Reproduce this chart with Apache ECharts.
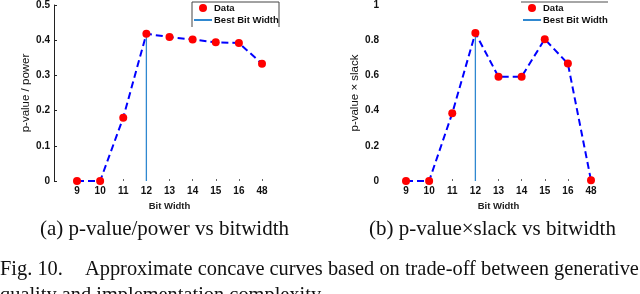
<!DOCTYPE html>
<html>
<head>
<meta charset="utf-8">
<script src="https://cdn.jsdelivr.net/npm/echarts@6/dist/echarts.min.js"></script>
<style>
html,body{margin:0;padding:0;background:#fff;}
#c{width:640px;height:294px;}
</style>
</head>
<body>
<div id="c"></div>
<script>
var bitWidths = ['9', '10', '11', '12', '13', '14', '15', '16', '48'];
var pvPower = [0, 0, 0.18, 0.418, 0.409, 0.402, 0.394, 0.392, 0.333];
var pvSlack = [0, 0, 0.385, 0.841, 0.592, 0.593, 0.806, 0.667, 0.004];
var bestBitWidth = '12';
var yNames = ['p-value / power', 'p-value \u00d7 slack'];
var captions = ['(a) p-value/power vs bitwidth', '(b) p-value\u00d7slack vs bitwidth'];
var figLabel = 'Fig. 10.';
var figText = ['Approximate concave curves based on trade-off between generative',
               'quality and implementation complexity.'];

var chart = echarts.init(document.getElementById('c'), null, {renderer: 'canvas'});
var sans = 'Liberation Sans, Arial, sans-serif';
var serif = 'Liberation Serif, Times New Roman, serif';

function pairs(vals) { return vals.map(function (v, i) { return [bitWidths[i], v]; }); }
function bestLine(vals) {
  var idx = bitWidths.indexOf(bestBitWidth);
  return [[bestBitWidth, 0], [bestBitWidth, vals[idx]]];
}

var xAxisBase = {
  type: 'category', data: bitWidths, boundaryGap: false,
  axisLine: {show: false},
  axisTick: {show: true, inside: true, length: 2, lineStyle: {color: '#666'}},
  axisLabel: {fontFamily: sans, fontSize: 10, fontWeight: 'bold', color: '#111', margin: 5, interval: 0},
  name: 'Bit Width', nameLocation: 'middle', nameGap: 18,
  nameTextStyle: {fontFamily: sans, fontSize: 9.5, fontWeight: 'bold', color: '#222'},
  splitLine: {show: false}
};

function legendCfg(left, suffix) {
  return {orient: 'vertical', left: left, top: 3, itemGap: 2, itemWidth: 18, itemHeight: 8,
    textStyle: {fontFamily: sans, fontSize: 9.5, fontWeight: 'bold', color: '#111', padding: [0, 0, 0, -3]},
    data: [{name: 'Data' + suffix, icon: 'circle'},
           {name: 'Best Bit Width' + suffix, itemStyle: {opacity: 0}}],
    padding: 0};
}

var option = {
  animation: false,
  backgroundColor: '#fff',
  grid: [
    {left: 77, top: 3, width: 185, height: 178},
    {left: 406, top: 3, width: 185, height: 178}
  ],
  xAxis: [
    Object.assign({gridIndex: 0}, xAxisBase),
    Object.assign({gridIndex: 1}, xAxisBase)
  ],
  yAxis: [
    {gridIndex: 0, type: 'value', min: 0, max: 0.5, interval: 0.1, offset: 23,
     axisLine: {show: true, lineStyle: {color: '#222', width: 1}},
     axisTick: {show: true, inside: true, length: 3, lineStyle: {color: '#222'}},
     axisLabel: {fontFamily: sans, fontSize: 10, fontWeight: 'bold', color: '#111', margin: 4},
     splitLine: {show: false},
     name: yNames[0], nameLocation: 'middle', nameGap: 15,
     nameTextStyle: {fontFamily: sans, fontSize: 11.5, color: '#111'}},
    {gridIndex: 1, type: 'value', min: 0, max: 1, interval: 0.2, offset: 23,
     axisLine: {show: false},
     axisTick: {show: false},
     axisLabel: {fontFamily: sans, fontSize: 10, fontWeight: 'bold', color: '#111', margin: 4},
     splitLine: {show: false},
     name: yNames[1], nameLocation: 'middle', nameGap: 18,
     nameTextStyle: {fontFamily: sans, fontSize: 11.5, color: '#111'}}
  ],
  legend: [legendCfg(193, ''), legendCfg(522, ' ')],
  series: [
    {type: 'line', xAxisIndex: 0, yAxisIndex: 0, data: pairs(pvPower), symbol: 'none',
     lineStyle: {color: '#0000ff', width: 2, type: [7, 4]}, z: 2},
    {type: 'line', name: 'Best Bit Width', xAxisIndex: 0, yAxisIndex: 0, data: bestLine(pvPower),
     symbol: 'none', color: '#2f88d0', lineStyle: {color: '#2f88d0', width: 1.3}, z: 3},
    {type: 'scatter', name: 'Data', xAxisIndex: 0, yAxisIndex: 0, data: pairs(pvPower),
     symbolSize: 8, itemStyle: {color: '#ff0000', opacity: 1}, z: 4},
    {type: 'line', xAxisIndex: 1, yAxisIndex: 1, data: pairs(pvSlack), symbol: 'none',
     lineStyle: {color: '#0000ff', width: 2, type: [7, 4]}, z: 2},
    {type: 'line', name: 'Best Bit Width ', xAxisIndex: 1, yAxisIndex: 1, data: bestLine(pvSlack),
     symbol: 'none', color: '#2f88d0', lineStyle: {color: '#2f88d0', width: 1.3}, z: 3},
    {type: 'scatter', name: 'Data ', xAxisIndex: 1, yAxisIndex: 1, data: pairs(pvSlack),
     symbolSize: 8, itemStyle: {color: '#ff0000', opacity: 1}, z: 4}
  ],
  graphic: [
    {type: 'polyline', shape: {points: [[192, 27], [192, 2], [279, 2], [279, 27]]},
     style: {stroke: '#444', lineWidth: 1, fill: null}, silent: true},
    {type: 'line', shape: {x1: 521, y1: 2, x2: 608, y2: 2},
     style: {stroke: '#888', lineWidth: 1.5}, silent: true},
    {type: 'text', x: 164.5, y: 229, style: {text: captions[0], font: '21px ' + serif, fill: '#111', textAlign: 'center', textVerticalAlign: 'middle'}},
    {type: 'text', x: 492.5, y: 229, style: {text: captions[1], font: '21px ' + serif, fill: '#111', textAlign: 'center', textVerticalAlign: 'middle'}},
    {type: 'text', x: 0, y: 270, style: {text: figLabel, font: '20.4px ' + serif, fill: '#111', textAlign: 'left', textVerticalAlign: 'middle'}},
    {type: 'text', x: 85, y: 270, style: {text: figText[0], font: '20.4px ' + serif, fill: '#111', textAlign: 'left', textVerticalAlign: 'middle'}},
    {type: 'text', x: 0, y: 296, style: {text: figText[1], font: '20.4px ' + serif, fill: '#111', textAlign: 'left', textVerticalAlign: 'middle'}}
  ]
};
chart.setOption(option);
</script>
</body>
</html>
